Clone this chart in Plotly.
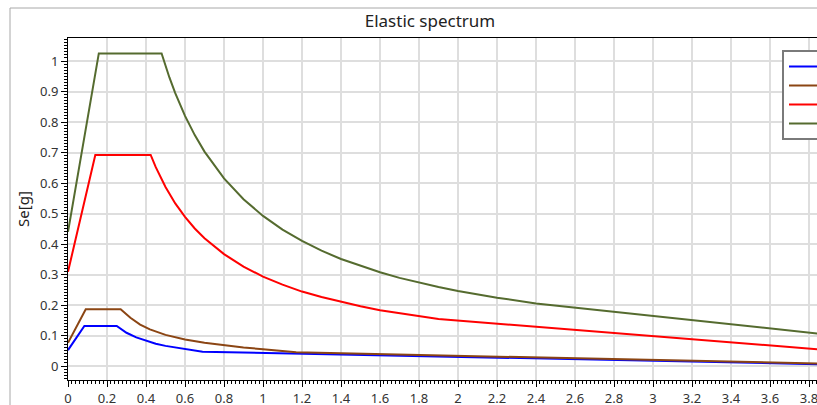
import plotly.graph_objects as go

# Period T [s] and spectral acceleration Se [g]
t_blue = [0, 0.084, 0.25, 0.3, 0.35, 0.4, 0.45, 0.5, 0.6, 0.69, 4.0]
se_blue = [0.052, 0.131, 0.131, 0.109, 0.094, 0.083, 0.073, 0.066, 0.055, 0.047, 0.004]

t_brown = [0, 0.091, 0.27, 0.32, 0.37, 0.42, 0.5, 0.6, 0.7, 0.8, 0.9, 1.0, 1.17, 4.0]
se_brown = [0.076, 0.186, 0.186, 0.158, 0.136, 0.120, 0.102, 0.087, 0.076, 0.068, 0.061, 0.055, 0.045, 0.006]

t_red = [0, 0.14, 0.424, 0.45, 0.5, 0.55, 0.6, 0.65, 0.7, 0.8, 0.9, 1.0, 1.1, 1.2, 1.3, 1.4, 1.5, 1.6, 1.7, 1.8, 1.9, 4.0]
se_red = [0.309, 0.692, 0.692, 0.652, 0.587, 0.533, 0.489, 0.451, 0.419, 0.367, 0.326, 0.293, 0.267,
          0.244, 0.226, 0.210, 0.196, 0.183, 0.173, 0.163, 0.154, 0.047]

t_green = [0, 0.158, 0.48, 0.52, 0.55, 0.6, 0.65, 0.7, 0.8, 0.9, 1.0, 1.1, 1.2, 1.3, 1.4, 1.5, 1.6, 1.7,
           1.8, 1.9, 2.0, 2.2, 2.4, 4.0]
se_green = [0.44, 1.025, 1.025, 0.946, 0.895, 0.82, 0.757, 0.703, 0.615, 0.547, 0.492, 0.447, 0.41,
            0.378, 0.351, 0.328, 0.3075, 0.289, 0.273, 0.259, 0.246, 0.224, 0.205, 0.096]

names = ["SLO", "SLD", "SLV", "SLC"]
colors = ["#0000FF", "#8B4513", "#FF0000", "#556B2F"]

W, H = 817, 405
L, R, T, B = 68, 0, 38, 25

fig = go.Figure()
for t, se, n, c in zip([t_blue, t_brown, t_red, t_green],
                       [se_blue, se_brown, se_red, se_green], names, colors):
    fig.add_trace(go.Scatter(x=t, y=se, mode="lines", name=n,
                             line=dict(color=c, width=2)))

font = "Noto Sans, Open Sans, DejaVu Sans, sans-serif"
pw = W - L - R
ph = H - T - B

fig.update_layout(
    width=W, height=H,
    margin=dict(l=L, r=R, t=T, b=B, autoexpand=False),
    paper_bgcolor="white", plot_bgcolor="white",
    font=dict(family=font, size=13, color="#333333"),
    title=dict(text="Elastic spectrum", x=430 / W, xanchor="center",
               y=1 - 21 / H, yanchor="middle", yref="container",
               font=dict(size=17, color="#222222")),
    showlegend=True,
    legend=dict(x=(782 - L) / pw, xanchor="left", y=(H - B - 50) / ph, yanchor="top",
                bgcolor="white", bordercolor="#7a7a7a", borderwidth=2,
                font=dict(size=11, color="#333333"), tracegroupgap=0,
                itemwidth=30),
    xaxis=dict(range=[0, (W - L - R) / 195.0], dtick=0.2, tick0=0,
               showgrid=True, gridcolor="#dedede", gridwidth=1.5,
               showline=True, linecolor="black", linewidth=1, mirror=True,
               ticks="outside", ticklen=6, tickcolor="black",
               ticklabeloverflow="allow",
               minor=dict(dtick=0.02, ticks="outside", ticklen=3, tickcolor="black", showgrid=False),
               zeroline=False, tickfont=dict(size=13, color="#333333")),
    yaxis=dict(range=[-(380 - 366) / 305.0, (366 - 38) / 305.0], dtick=0.1, tick0=0,
               showgrid=True, gridcolor="#dedede", gridwidth=1.5,
               showline=True, linecolor="black", linewidth=1,
               ticks="outside", ticklen=6, tickcolor="black",
               minor=dict(dtick=0.01, ticks="outside", ticklen=3, tickcolor="black", showgrid=False),
               zeroline=False, tickfont=dict(size=13, color="#333333"),
               title=dict(text="Se[g]", standoff=6, font=dict(size=15, color="#222222"))),
    shapes=[
        dict(type="line", xref="paper", yref="paper",
             x0=(10 - L) / pw, x1=(10 - L) / pw, y0=-B / ph, y1=(H - B - 8) / ph,
             line=dict(color="#a8a8a8", width=1)),
        dict(type="line", xref="paper", yref="paper",
             x0=(10 - L) / pw, x1=1.0, y0=(H - B - 8) / ph, y1=(H - B - 8) / ph,
             line=dict(color="#a8a8a8", width=1)),
    ],
)

fig.write_html("out.html")
